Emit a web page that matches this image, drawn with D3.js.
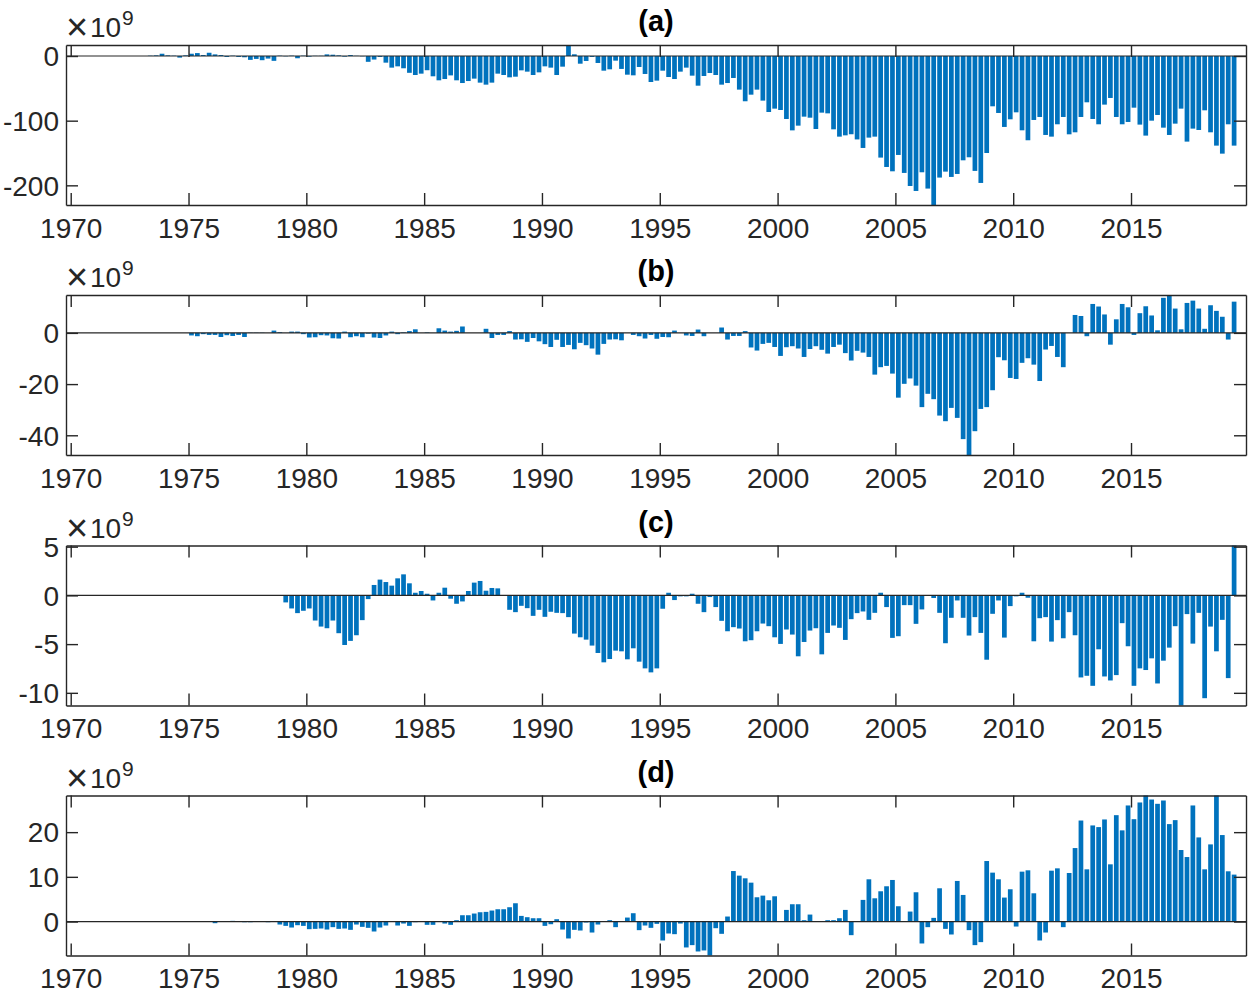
<!DOCTYPE html>
<html><head><meta charset="utf-8">
<script src="https://cdn.jsdelivr.net/npm/d3@7"></script>
<style>body{margin:0;background:#fff}svg{display:block}</style>
</head><body><svg id="c" width="1250" height="995"></svg>
<script>
// Quarterly values (units of 1e9), first value at the given start (quarter mid-point)
const startA = 1973.125;
const valuesA = [
  0, 0.5, 1, 3.5,  1, 0.5, -2.5, 1,  3.5, 4.5, 1.5, 5,  2.5, 1.5, -1.5, 0.5,
  -1.5, -2, -6, -4.5,  -6.5, -4, -7.5, 0.5,  -0.5, 0.5, -3.5, 0.5,  -1, 0.3, 0.3, 2.5,
  2, 1, -1, 1.5,  0.3, -0.5, -9, -5.5,  -1.5, -10.3, -18, -16,  -19, -26, -29.4, -27.3,
  -22, -31.4, -37.6, -35.6,  -30, -37.6, -41.8, -38.7,
  -35, -41.2, -44.3, -41.2,  -27.3, -29.4, -33, -32,  -22.2, -24.2, -29.4, -25.3,
  -16, -18, -29.4, -16.5,  17, 2.6, -11.9, -7.7,  -1.5, -10.8, -22.7, -20.6,
  -7.2, -20, -28.9, -29.9,  -17, -27.8, -40.2, -38.1,  -22.7, -32.5, -35.6, -24.2,
  -18, -30.4, -45.9, -30.9,  -26.3, -29.4, -44.3, -41.8,  -34, -52, -70, -59.8,
  -52, -69, -86.6, -81.4,  -83.5, -97.4, -115, -107.7,  -93.8, -95.4, -112.9, -87.6,
  -88.7, -113.4, -124.7, -122.7,  -121, -129, -142.2, -126.2,
  -124.7, -157.1, -171.6, -178.3,  -153, -180.8, -201, -208.7,  -179.8, -205, -230.4, -188,
  -178.8, -187, -182.4, -161.3,  -156.6, -177.7, -196.3, -150,  -77.8, -88.1, -109.7, -97.9,
  -87.1, -114.9, -130.3, -98.9,  -94.3, -122.1, -124.7, -105.6,  -94.3, -121.1, -118, -94.3,
  -71.6, -97.4, -105.6, -75.2,  -64.9, -94.3, -105.6, -102,  -79.9, -106.1, -123.1, -100,
  -91.2, -110.8, -122.1, -104.6,  -81.4, -132.4, -112.3, -114.4,  -84, -118, -138.6, -151,
  -105.6, -138.6
];
const startB = 1975.125;
const valuesB = [
  -1.0, -1.3, -0.5, -0.8,  -0.8, -1.6, -0.9, -1.2,  -0.8, -1.6, 0.1, 0.1,  0.1, 0, 0.9, 0.3,
  0, 0.5, 0.5, -0.5,  -1.8, -1.7, -0.9, -1.0,  -2.1, -2.2, 0.5, -1.7,  -1.3, -1.7, -0.3, -1.8,
  -2.0, -1.0, 0.5, -0.5,  0.2, 0.7, 1.4, 0,  0.2, 0, 1.8, 0.9,  0.5, 0.8, 2.5, 0,
  0, 0, 1.6, -2.0,  -0.8, -0.8, 0.7, -2.6,  -2.5, -3.5, -2.0, -3.3,  -4.4, -5.5, -2.7, -5.5,
  -4.7, -6.4, -3.9, -4.8,  -6.1, -8.5, -4.3, -2.6,  -2.5, -2.9, 0, -0.8,  -1.3, -2.2, -0.8, -2.3,
  -1.6, -1.7, 0.9, 0,  -1.0, -1.2, 1.3, -1.3,  0, 0, 2.1, -2.6,  -1.2, -1.2, 0.7, -5.7,
  -6.9, -4.3, -3.9, -5.5,  -9.0, -5.6, -5.2, -6.1,  -9.4, -6.3, -5.2, -6.6,  -8.1, -5.5, -4.6, -7.9,
  -10.8, -7.0, -7.7, -9.4,  -16.3, -13.4, -12.9, -15.9,  -25.3, -19.9, -17.8, -20.6,  -29, -23.8, -25.9, -32.3,
  -34.5, -29.3, -33.2, -41.5,  -47.7, -38.4, -29.7, -29,  -22.4, -9.5, -10.7, -17.6,  -18, -11.7, -9.9, -12.4,
  -18.8, -6.5, -5.1, -9.4,  -13.4, 0, 7.0, 6.6,  -1.3, 11.3, 10.3, 7.2,  -4.6, 5.3, 11.3, 10.0,
  -0.8, 7.7, 10.4, 6.8,  1.0, 13.7, 14.8, 9.5,  1.4, 11.7, 12.6, 9.5,  1.6, 10.8, 8.6, 6.3,
  -2.6, 12.2
];
const startC = 1979.125;
const valuesC = [
  -0.72, -1.34, -1.82, -1.58,  -1.34, -2.58, -3.2, -3.37,  -2.58, -3.88, -5.09, -4.67,  -4.09, -2.54, -0.38, 1.07,
  1.62, 1.37, 1.0, 1.75,  2.16, 1.24, 0.27, 0.45,  0.17, -0.52, 0.27, 0.79,  -0.34, -0.86, -0.62, 0.45,
  1.31, 1.48, 0.48, 0.76,  0.72, 0, -1.48, -1.72,  -1.07, -1.31, -2.1, -1.48,  -2.2, -1.68, -1.79, -1.82,
  -2.23, -3.92, -4.3, -4.54,  -5.15, -5.91, -6.87, -6.53,  -5.67, -5.74, -6.56, -5.43,  -6.8, -7.49, -7.9, -7.49,
  -1.37, 0.27, -0.48, -0.1,  -0.1, 0.17, -0.86, -1.72,  -0.17, -1.2, -2.61, -3.68,  -3.26, -3.4, -4.71, -4.6,
  -3.68, -2.89, -3.16, -4.3,  -4.98, -3.5, -4.02, -6.25,  -4.78, -3.61, -3.37, -6.05,  -3.85, -3.09, -3.33, -4.57,
  -2.44, -1.82, -1.65, -2.51,  -1.79, 0.27, -1.2, -4.36,  -4.19, -1.0, -1.0, -2.92,  -1.44, -0.05, -0.27, -1.79,
  -4.91, -2.3, -0.52, -2.3,  -4.12, -2.23, -3.85, -6.6,  -1.89, -0.52, -4.33, -1.1,  -0.1, 0.27, -0.24, -4.71,
  -2.34, -2.23, -4.74, -2.54,  -4.4, -1.72, -4.09, -8.42,  -8.25, -9.28, -5.53, -8.32,  -8.73, -8.18, -2.85, -5.22,
  -9.28, -7.49, -7.66, -6.46,  -9.04, -6.7, -5.36, -3.16,  -11.3, -1.92, -4.95, -1.79,  -10.55, -3.2, -5.74, -2.51,
  -8.49, 5.12
];
const startD = 1976.125;
const valuesD = [
  -0.37, 0, 0, 0.15,  0, -0.15, -0.15, 0,  0, -0.15, 0, -0.67,  -0.97, -1.34, -0.82, -0.97,
  -1.71, -1.64, -1.56, -1.79,  -1.26, -1.64, -1.56, -1.86,  -0.67, -1.19, -1.41, -2.23,  -1.34, -0.89, 0, -0.89,
  -0.45, -0.97, -0.15, 0,  -0.74, -0.74, 0, -0.45,  -0.74, 0.3, 1.41, 1.41,  1.79, 2.08, 2.16, 2.46,
  2.75, 2.75, 3.2, 4.09,  1.26, 0.97, 0.74, 0.74,  -0.97, -0.6, 0.52, -1.79,  -3.79, -1.86, -2.01, -0.22,
  -2.46, -0.67, 0, 0.3,  -1.26, 0, 0.89, 1.86,  -1.93, -0.89, -1.41, -0.52,  -4.24, -2.68, -2.83, -0.45,
  -5.8, -5.28, -6.7, -6.47,  -7.6, -1.49, -2.75, 1.12,  11.3, 10.27, 9.67, 8.7,  5.43, 5.8, 4.76, 5.65,
  -0.07, 2.6, 3.87, 3.87,  0.3, 1.56, 0, 0,  0.3, 0.3, 0.74, 2.6,  -3.05, 0, 4.84, 9.45,
  5.2, 6.77, 7.89, 9.3,  3.42, -0.05, 2.23, 6.55,  -4.91, -1.26, 0.82, 7.44,  -1.64, -2.9, 9.08, 5.95,
  -1.93, -5.28, -4.61, 13.54,  10.94, 9.45, 5.36, 7.22,  -1.12, 11.16, 11.46, 6.32,  -4.24, -2.46, 11.38, 11.9,
  -1.26, 10.86, 16.44, 22.6,  11.68, 21.5, 21.13, 22.84,  12.8, 23.8, 20.4, 25.97,  22.9, 26.64, 28.2, 27.3,
  26.34, 27.08, 21.8, 22.69,  16, 14.43, 25.97, 18.82,  11.68, 17.26, 28.2, 19.35,  11.24, 10.5
];
const xTicks = [1970, 1975, 1980, 1985, 1990, 1995, 2000, 2005, 2010, 2015];
const yTicksA = [-200, -100, 0];
const yTicksB = [-40, -20, 0];
const yTicksC = [-10, -5, 0, 5];
const yTicksD = [0, 10, 20];
const titles = ["(a)", "(b)", "(c)", "(d)"];
const exponentLabel = "9";

const panels = [
  {title: titles[0], start: startA, values: valuesA, yTicks: yTicksA},
  {title: titles[1], start: startB, values: valuesB, yTicks: yTicksB},
  {title: titles[2], start: startC, values: valuesC, yTicks: yTicksC},
  {title: titles[3], start: startD, values: valuesD, yTicks: yTicksD}
];

const svg = d3.select("#c");
const FONT = "'Liberation Sans', Arial, Helvetica, sans-serif";
const INK = "#262626";
const left = 66, right = 1246, ph = 160;
const tops = [45, 295, 545.5, 795.5];
const tickLen = 12;
const x = d3.scaleLinear().domain([1969.8, 2019.88]).range([left, right]);
const bw = 0.8 * (x(0.25) - x(0));

panels.forEach((p, i) => {
  const top = tops[i];
  const y = d3.scaleLinear().domain(d3.extent(p.values)).range([top + ph, top]);
  const data = p.values.map((v, k) => ({t: p.start + k * 0.25, v}));
  const g = svg.append("g");

  g.selectAll("rect.bar").data(data).join("rect")
    .attr("class", "bar")
    .attr("x", d => x(d.t) - bw / 2)
    .attr("width", bw)
    .attr("y", d => y(Math.max(0, d.v)))
    .attr("height", d => Math.abs(y(d.v) - y(0)))
    .attr("fill", "#0072BD");

  // baseline
  g.append("line")
    .attr("x1", left).attr("x2", right)
    .attr("y1", y(0)).attr("y2", y(0))
    .attr("stroke", INK).attr("stroke-width", 1.2);

  const styleAxis = a => {
    a.selectAll("path.domain").attr("stroke", INK).attr("stroke-width", 1.4);
    a.selectAll(".tick line").attr("stroke", INK).attr("stroke-width", 1.4);
    a.selectAll(".tick text").attr("fill", INK).style("font-size", "28px").style("font-family", FONT);
  };

  g.append("g").attr("transform", `translate(0,${top + ph})`)
    .call(d3.axisBottom(x).tickValues(xTicks).tickSize(-tickLen).tickSizeOuter(0).tickPadding(13).tickFormat(d => String(d)))
    .call(styleAxis);
  g.append("g").attr("transform", `translate(0,${top})`)
    .call(d3.axisTop(x).tickValues(xTicks).tickSize(-tickLen).tickSizeOuter(0).tickFormat(""))
    .call(styleAxis);
  g.append("g").attr("transform", `translate(${left},0)`)
    .call(d3.axisLeft(y).tickValues(p.yTicks).tickSize(-tickLen).tickSizeOuter(0).tickPadding(7).tickFormat(d => String(d)))
    .call(styleAxis);
  g.append("g").attr("transform", `translate(${right},0)`)
    .call(d3.axisRight(y).tickValues(p.yTicks).tickSize(-tickLen).tickSizeOuter(0).tickFormat(""))
    .call(styleAxis);

  // title
  g.append("text").attr("x", (left + right) / 2).attr("y", top - 14)
    .attr("text-anchor", "middle").attr("fill", "#000")
    .style("font-size", "29px").style("font-weight", "bold").style("font-family", FONT)
    .text(p.title);

  // exponent label: ×10^9
  g.append("text").attr("x", 66).attr("y", top - 5)
    .attr("fill", INK).style("font-size", "38px").style("font-weight", "300").style("font-family", FONT)
    .text("\u00d7");
  g.append("text").attr("x", 90).attr("y", top - 8)
    .attr("fill", INK).style("font-size", "28px").style("font-family", FONT)
    .text("10");
  g.append("text").attr("x", 122).attr("y", top - 20)
    .attr("fill", INK).style("font-size", "21px").style("font-family", FONT)
    .text(exponentLabel);
});
svg.selectAll("g.tick text").each(function() {
  const t = d3.select(this);
  if (t.attr("x") !== null && +t.attr("x") < 0) t.attr("dy", "0.35em");
  else t.attr("dy", "0.71em");
});
</script>
</body></html>
